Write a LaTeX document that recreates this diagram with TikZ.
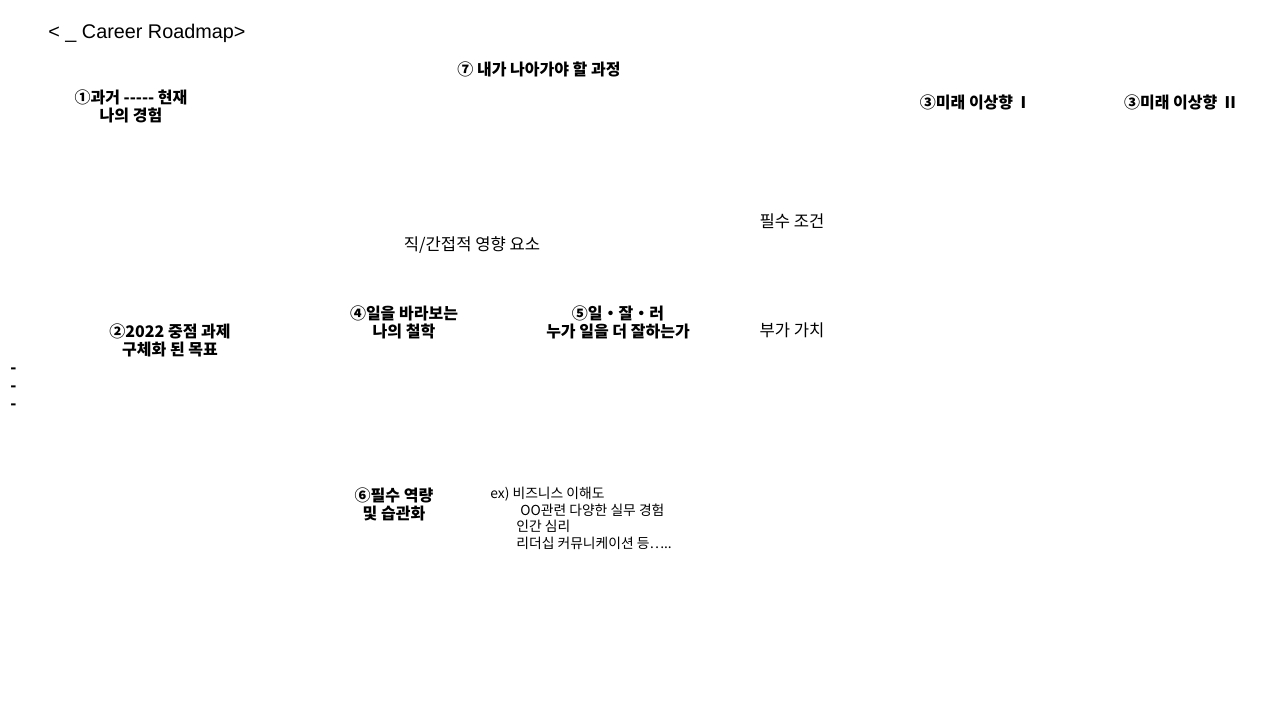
\documentclass[tikz,border=0pt]{standalone}
\usepackage{fontspec}
\setmainfont{Noto Sans CJK KR}
\newfontfamily\titlefont{Liberation Sans}
\usepackage{tikz}
\usetikzlibrary{positioning}
\tikzstyle{heading}=[font=\bfseries\fontsize{8}{9}\selectfont,align=center,inner sep=0pt]
\tikzstyle{plain}=[font=\fontsize{8.3}{9}\selectfont,align=center,inner sep=0pt]
\tikzstyle{small}=[font=\fontsize{6.9}{8.2}\selectfont,align=left,inner sep=0pt]

\begin{document}
\begin{tikzpicture}[x=0.5pt,y=-0.5pt]
\useasboundingbox (0,0) rectangle (1280,720);
\node[font=\titlefont\fontsize{9.9}{11}\selectfont,anchor=west,inner sep=0pt](title) at (48,33){< \_ Career Roadmap>};
\node[heading](path) at (539,69){⑦ 내가 나아가야 할 과정};
\node[heading](past) at (131,106){①과거 -{}-{}-{}-{}- 현재\\나의 경험};
\node[heading](futureone) at (973,102){③미래 이상향 \ I};
\node[heading](futuretwo) at (1180,102){③미래 이상향 \ II};
\node[plain](must) at (792,221){필수 조건};
\node[plain](effect) at (472,245){직/간접적 영향 요소};
\node[heading](goal) at (170,340){②2022 중점 과제\\구체화 된 목표};
\node[heading](philo) at (404,322){④일을 바라보는\\나의 철학};
\node[heading](better) at (618,322){⑤일・잘・러\\누가 일을 더 잘하는가};
\node[plain](value) at (792,330){부가 가치};
\node[heading](skill) at (394,504){⑥필수 역량\\및 습관화};
\node[small,anchor=north west](ex) at (490,487){ex) 비즈니스 이해도\\
\hspace*{15pt}OO관련 다양한 실무 경험\\
\hspace*{13pt}인간 심리\\
\hspace*{13pt}리더십 커뮤니케이션 등…..};
\foreach \y in {371,389,407}
 \node[heading,anchor=west](dash\y) at (10,\y){-};
\end{tikzpicture}
\end{document}
